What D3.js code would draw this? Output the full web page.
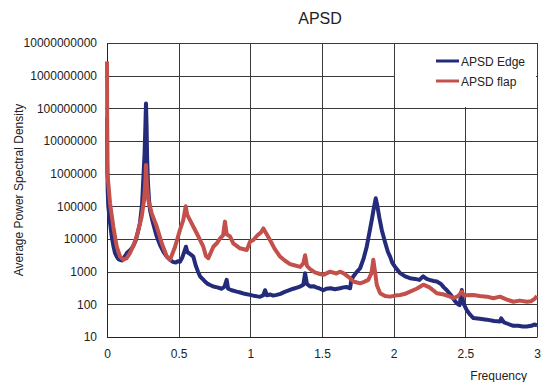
<!DOCTYPE html>
<html>
<head>
<meta charset="utf-8">
<script src="https://cdn.jsdelivr.net/npm/d3@7"></script>
<style>
  body { margin: 0; background: #fff; }
  text { font-family: "Liberation Sans", Arial, sans-serif; fill: #222; }
</style>
</head>
<body>
<script>
// values
var edgeFreq = [0, 0.002, 0.005, 0.009, 0.02, 0.033, 0.045, 0.056, 0.07, 0.08, 0.091, 0.103, 0.115, 0.13, 0.14, 0.16, 0.181, 0.2, 0.215, 0.23, 0.245, 0.253, 0.262, 0.268, 0.272, 0.276, 0.28, 0.286, 0.293, 0.3, 0.32, 0.347, 0.37, 0.395, 0.417, 0.44, 0.46, 0.48, 0.495, 0.509, 0.525, 0.54, 0.551, 0.56, 0.575, 0.59, 0.602, 0.62, 0.635, 0.649, 0.68, 0.7, 0.719, 0.742, 0.77, 0.8, 0.82, 0.835, 0.845, 0.87, 0.905, 0.93, 0.96, 0.998, 1.02, 1.05, 1.068, 1.09, 1.103, 1.115, 1.14, 1.16, 1.184, 1.21, 1.24, 1.277, 1.3, 1.32, 1.347, 1.37, 1.382, 1.395, 1.417, 1.44, 1.46, 1.48, 1.509, 1.53, 1.56, 1.59, 1.626, 1.65, 1.67, 1.696, 1.705, 1.717, 1.74, 1.766, 1.79, 1.812, 1.83, 1.847, 1.862, 1.875, 1.885, 1.9, 1.917, 1.94, 1.96, 1.975, 1.99, 2.01, 2.045, 2.08, 2.114, 2.15, 2.18, 2.205, 2.23, 2.25, 2.28, 2.301, 2.33, 2.35, 2.371, 2.4, 2.42, 2.44, 2.46, 2.475, 2.485, 2.51, 2.53, 2.556, 2.6, 2.65, 2.7, 2.742, 2.75, 2.77, 2.8, 2.835, 2.87, 2.9, 2.929, 2.96, 2.98, 3.0];
var edgeApsd = [5.4e7, 2.0e6, 3.0e5, 1.0e5, 3.5e4, 1.2e4, 6.0e3, 3.7e3, 2.8e3, 2.4e3, 2.3e3, 2.2e3, 2.6e3, 3.2e3, 3.8e3, 4.5e3, 5.8e3, 9.0e3, 1.6e4, 3.1e4, 1.2e5, 6.4e5, 4.0e6, 3.0e7, 1.4e8, 3.0e7, 3.0e6, 5.0e5, 1.6e5, 7.7e4, 3.2e4, 1.2e4, 6.5e3, 4.0e3, 2.9e3, 2.3e3, 2.0e3, 1.9e3, 2.1e3, 2.0e3, 2.7e3, 4.2e3, 5.8e3, 4.0e3, 3.6e3, 3.2e3, 2.9e3, 1.5e3, 1.0e3, 720, 520, 430, 390, 350, 330, 300, 350, 560, 300, 270, 245, 230, 210, 195, 185, 175, 170, 190, 270, 190, 200, 185, 195, 210, 240, 275, 300, 320, 350, 400, 890, 420, 350, 360, 330, 310, 270, 300, 310, 290, 310, 330, 340, 310, 560, 700, 950, 1270, 2500, 5800, 1.5e4, 3.8e4, 9.0e4, 1.76e5, 1.1e5, 4.5e4, 1.9e4, 8.0e3, 4.0e3, 2.9e3, 1.9e3, 1.4e3, 900, 720, 630, 600, 560, 720, 600, 560, 520, 500, 420, 330, 270, 190, 140, 108, 95, 275, 110, 66, 50, 38, 36, 34, 31, 30, 37, 28, 25, 22, 22, 21, 21, 22, 24, 23];

var flapFreq = [0, 0.002, 0.009, 0.021, 0.044, 0.068, 0.091, 0.114, 0.137, 0.16, 0.185, 0.207, 0.225, 0.242, 0.258, 0.267, 0.272, 0.278, 0.288, 0.312, 0.347, 0.382, 0.417, 0.44, 0.475, 0.509, 0.532, 0.549, 0.56, 0.579, 0.626, 0.672, 0.69, 0.707, 0.742, 0.766, 0.789, 0.81, 0.823, 0.835, 0.858, 0.881, 0.928, 0.975, 0.998, 1.021, 1.05, 1.075, 1.091, 1.11, 1.137, 1.17, 1.207, 1.24, 1.277, 1.3, 1.347, 1.37, 1.382, 1.395, 1.417, 1.45, 1.486, 1.51, 1.556, 1.6, 1.625, 1.649, 1.696, 1.72, 1.766, 1.79, 1.823, 1.845, 1.858, 1.865, 1.875, 1.882, 1.905, 1.94, 1.975, 2.01, 2.045, 2.08, 2.114, 2.16, 2.207, 2.25, 2.301, 2.35, 2.394, 2.417, 2.45, 2.475, 2.49, 2.556, 2.6, 2.65, 2.696, 2.742, 2.79, 2.835, 2.88, 2.929, 2.96, 2.985, 3.0];
var flapApsd = [2.7e9, 1.05e6, 5.2e5, 1.24e5, 2.4e4, 5.8e3, 2.9e3, 2.3e3, 2.6e3, 3.7e3, 6.5e3, 1.2e4, 2.4e4, 4.8e4, 1.5e5, 5.0e5, 1.85e6, 5.0e5, 1.56e5, 6.1e4, 2.4e4, 7.4e3, 2.9e3, 2.3e3, 5.8e3, 1.9e4, 3.8e4, 1.0e5, 5.5e4, 3.8e4, 1.5e4, 5.8e3, 3.0e3, 2.6e3, 5.8e3, 7.4e3, 1.05e4, 1.3e4, 3.4e4, 1.4e4, 1.2e4, 7.4e3, 5.2e3, 4.6e3, 8.3e3, 9.3e3, 1.3e4, 1.6e4, 2.1e4, 1.5e4, 9.3e3, 5.0e3, 2.9e3, 2.2e3, 1.7e3, 1.6e3, 1.4e3, 1.8e3, 3.2e3, 1.5e3, 1.2e3, 950, 850, 800, 1000, 880, 1000, 900, 630, 500, 440, 480, 560, 900, 2300, 1400, 700, 400, 220, 180, 172, 185, 194, 210, 244, 300, 400, 330, 218, 200, 172, 153, 180, 244, 190, 194, 180, 172, 153, 172, 140, 120, 130, 120, 125, 150, 180];

var legendLabels = ["APSD Edge", "APSD flap"];
var colors = ["#232b7a", "#c4504c"];
var xTicks = [0, 0.5, 1, 1.5, 2, 2.5, 3];
var yTicks = [10, 100, 1000, 1e4, 1e5, 1e6, 1e7, 1e8, 1e9, 1e10];

var margin = {top: 43, right: 6, bottom: 45, left: 107},
  width = 543 - margin.left - margin.right,
  height = 382 - margin.top - margin.bottom;

var x = d3.scaleLinear().domain([0, 3]).range([0, width]);
var y = d3.scaleLog().domain([10, 1e10]).range([height, 0]);

var svg = d3.select("body").append("svg")
  .attr("width", 543)
  .attr("height", 382);

var g = svg.append("g")
  .attr("transform", "translate(" + margin.left + "," + margin.top + ")");

// grid
g.append("g").selectAll("line").data(yTicks).enter().append("line")
  .attr("x1", 0).attr("x2", width)
  .attr("y1", function(d) { return Math.round(y(d)) + 0.5; })
  .attr("y2", function(d) { return Math.round(y(d)) + 0.5; })
  .attr("stroke", "#3a3a3a").attr("stroke-width", 1);

g.append("g").selectAll("line").data(xTicks).enter().append("line")
  .attr("y1", 0).attr("y2", height)
  .attr("x1", function(d) { return Math.round(x(d)) + 0.5; })
  .attr("x2", function(d) { return Math.round(x(d)) + 0.5; })
  .attr("stroke", "#3a3a3a").attr("stroke-width", 1);

// axes
var xAxis = d3.axisBottom(x).tickValues(xTicks).tickSize(0).tickPadding(12)
  .tickFormat(function(d) { return d; });
var yAxis = d3.axisLeft(y).tickValues(yTicks).tickSize(0).tickPadding(10)
  .tickFormat(function(d) { return d3.format("d")(d); });

var gx = g.append("g").attr("transform", "translate(0," + height + ")").call(xAxis);
var gy = g.append("g").call(yAxis);
[gx, gy].forEach(function(a) {
  a.select(".domain").attr("stroke", "#222");
  a.selectAll("text").attr("font-size", 12).attr("font-family", "Liberation Sans, Arial, sans-serif").attr("fill", "#222");
});

// series
var line = d3.line()
  .x(function(d) { return x(d[0]); })
  .y(function(d) { return y(d[1]); });

var series = [d3.zip(edgeFreq, edgeApsd), d3.zip(flapFreq, flapApsd)];
g.selectAll("path.series").data(series).enter().append("path")
  .attr("class", "series")
  .attr("d", line)
  .attr("fill", "none")
  .attr("stroke", function(d, i) { return colors[i]; })
  .attr("stroke-width", 4)
  .attr("stroke-linejoin", "round");

// title and axis labels
svg.append("text").attr("x", 320).attr("y", 24).attr("text-anchor", "middle")
  .attr("font-size", 16).text("APSD");
svg.append("text").attr("transform", "translate(23,190) rotate(-90)")
  .attr("text-anchor", "middle").attr("font-size", 12)
  .text("Average Power Spectral Density");
svg.append("text").attr("x", 527).attr("y", 380).attr("text-anchor", "end")
  .attr("font-size", 12).text("Frequency");

// legend box (white, hides grid behind it)
svg.append("rect").attr("x", 395).attr("y", 44).attr("width", 141).attr("height", 63)
  .attr("fill", "#fff");
var legend = svg.append("g").selectAll("g").data(legendLabels).enter().append("g")
  .attr("transform", function(d, i) { return "translate(436," + (61 + i * 20) + ")"; });
legend.append("line").attr("x1", 0).attr("x2", 23)
  .attr("stroke", function(d, i) { return colors[i]; }).attr("stroke-width", 3);
legend.append("text").attr("x", 25).attr("y", 4.5).attr("font-size", 12)
  .text(function(d) { return d; });
</script>
</body>
</html>
